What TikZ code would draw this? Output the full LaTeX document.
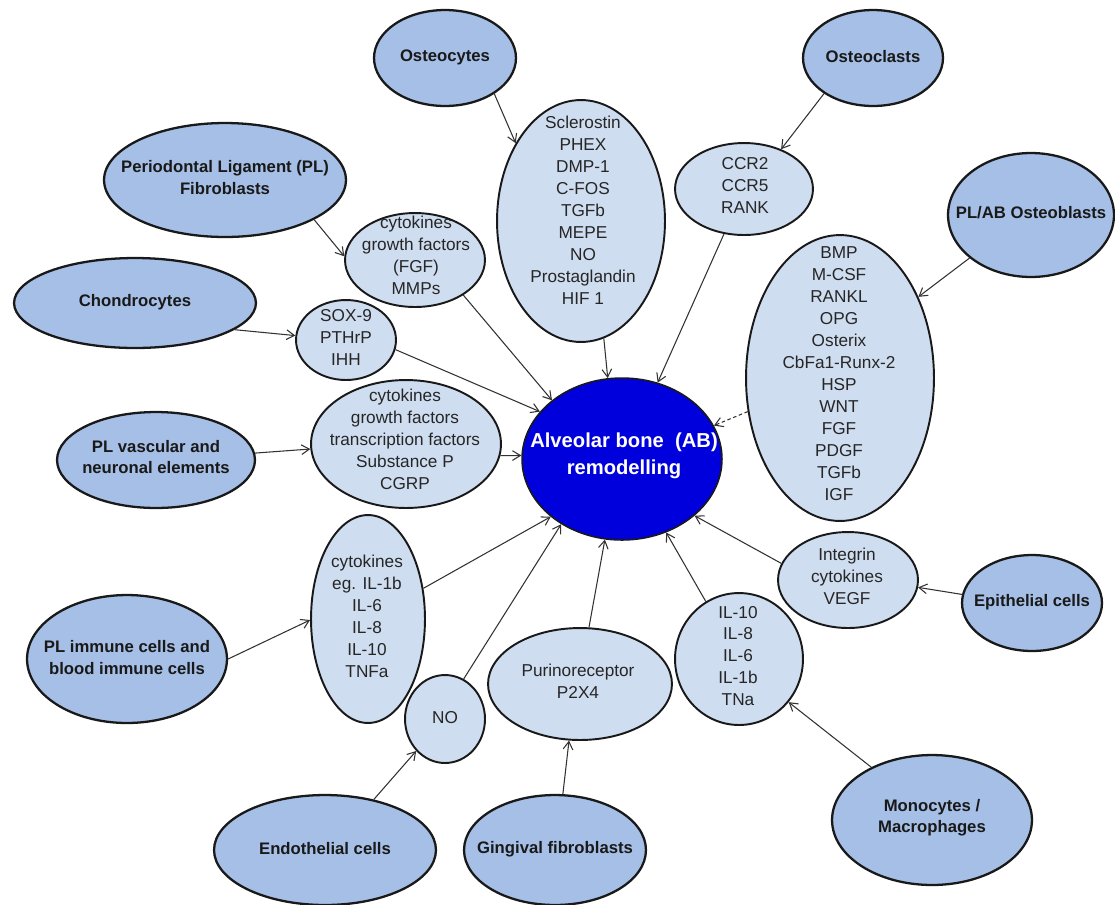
\documentclass[tikz,border=0pt]{standalone}
\usepackage{fontspec}
\setmainfont{Liberation Sans}
\usetikzlibrary{arrows.meta,shapes.geometric}
\definecolor{outerfill}{RGB}{166,191,230}
\definecolor{innerfill}{RGB}{207,221,240}
\definecolor{corefill}{RGB}{0,0,221}
\definecolor{edgecol}{RGB}{25,25,25}
\definecolor{arrcol}{RGB}{50,50,50}
\begin{document}
\begin{tikzpicture}[x=0.02cm,y=-0.02cm,
  esize/.style 2 args={minimum width=#1*0.04cm, minimum height=#2*0.04cm},
  outerell/.style={ellipse, draw=edgecol, line width=1.3pt, fill=outerfill, inner sep=0pt},
  innerell/.style={ellipse, draw=edgecol, line width=1.1pt, fill=innerfill, inner sep=0pt},
  coreell/.style={ellipse, draw=edgecol, line width=0.9pt, fill=corefill, inner sep=0pt},
  otxt/.style={align=center, font=\fontsize{9.5}{12}\selectfont\bfseries, text=black!90, inner sep=0pt},
  itxt/.style={align=center, font=\fontsize{9.8}{12.5}\selectfont, text=black!85, inner sep=0pt},
  ctxt/.style={align=center, font=\fontsize{11.5}{15.3}\selectfont\bfseries, text=white, inner sep=0pt},
  arr/.style={draw=arrcol, line width=0.6pt, -{Straight Barb[length=4.5pt,width=5.5pt]}},
  dasharr/.style={arr, dash pattern=on 2pt off 1.5pt}
]
\useasboundingbox (0,0) rectangle (1115,904);
\fill[white] (0,0) rectangle (1115,904);

% outer cell nodes
\node[outerell, esize={71}{48}] (osteocytes) at (445,58) {};
\node[otxt] (osteocytesT) at (445,57) {Osteocytes};
\node[outerell, esize={70}{48}] (osteoclasts) at (873,58) {};
\node[otxt] (osteoclastsT) at (873,57) {Osteoclasts};
\node[outerell, esize={121}{57}] (plfib) at (225,180) {};
\node[otxt] (plfibT) at (225,177.5) {Periodontal Ligament (PL)\\Fibroblasts};
\node[outerell, esize={121}{45}] (chondro) at (135,303) {};
\node[otxt] (chondroT) at (135,302) {Chondrocytes};
\node[outerell, esize={99}{48}] (plvasc) at (156,460) {};
\node[otxt] (plvascT) at (156,457) {PL vascular and\\neuronal elements};
\node[outerell, esize={100}{64}] (plimm) at (127,659) {};
\node[otxt] (plimmT) at (127,657.5) {PL immune cells and\\blood immune cells};
\node[outerell, esize={111}{55}] (endo) at (325,850) {};
\node[otxt] (endoT) at (325,849) {Endothelial cells};
\node[outerell, esize={91}{55}] (ging) at (555,850) {};
\node[otxt] (gingT) at (555,849) {Gingival fibroblasts};
\node[outerell, esize={100}{65}] (mono) at (932,820) {};
\node[otxt] (monoT) at (932,817.5) {Monocytes /\\Macrophages};
\node[outerell, esize={70}{48}] (epith) at (1032,603) {};
\node[otxt] (epithT) at (1032,602) {Epithelial cells};
\node[outerell, esize={83}{62}] (osteob) at (1031,215) {};
\node[otxt] (osteobT) at (1031,213) {PL/AB Osteoblasts};

% inner factor nodes
\node[innerell, esize={84}{121}] (scl) at (581,221) {};
\node[itxt] (sclT) at (583,210) {Sclerostin\\PHEX\\DMP-1\\C-FOS\\TGFb\\MEPE\\NO\\Prostaglandin\\HIF 1};
\node[innerell, esize={69}{46}] (ccr) at (744,189) {};
\node[itxt] (ccrT) at (745,185.5) {CCR2\\CCR5\\RANK};
\node[innerell, esize={70}{47}] (fgf) at (415,260) {};
\node[itxt] (fgfT) at (416,255) {cytokines\\growth factors\\(FGF)\\MMPs};
\node[innerell, esize={50}{40}] (sox) at (346,340) {};
\node[itxt] (soxT) at (346,337.5) {SOX-9\\PTHrP\\IHH};
\node[innerell, esize={95}{64}] (cgrp) at (406,444) {};
\node[itxt] (cgrpT) at (405,439) {cytokines\\growth factors\\transcription factors\\Substance P\\CGRP};
\node[innerell, esize={94}{143}] (bmp) at (840,378) {};
\node[itxt] (bmpT) at (839,373.5) {BMP\\M-CSF\\RANKL\\OPG\\Osterix\\CbFa1-Runx-2\\HSP\\WNT\\FGF\\PDGF\\TGFb\\IGF};
\node[innerell, esize={70}{48}] (integ) at (848,580) {};
\node[itxt] (integT) at (847,576.5) {Integrin\\cytokines\\VEGF};
\node[innerell, esize={64}{66}] (il10) at (739,659) {};
\node[itxt] (il10T) at (738,656) {IL-10\\IL-8\\IL-6\\IL-1b\\TNa};
\node[innerell, esize={92}{56}] (puri) at (580,684) {};
\node[itxt] (puriT) at (578,681) {Purinoreceptor\\P2X4};
\node[innerell, esize={40}{44}] (no) at (445,719) {};
\node[itxt] (noT) at (445,718) {NO};
\node[innerell, esize={57}{104}] (cyteg) at (368,619) {};
\node[itxt] (cytegT) at (367,616) {cytokines\\eg. IL-1b\\IL-6\\IL-8\\IL-10\\TNFa};

% central node
\node[coreell, esize={100}{81}] (core) at (622,459) {};
\node[ctxt] (coreT) at (624,455.5) {Alveolar bone \ (AB)\\remodelling};

% cells -> factors
\draw[arr] (osteocytes.-36.5) -- (scl.130.8);
\draw[arr] (osteoclasts.216.9) -- (ccr.47);
\draw[arr] (plfib.-24.7) -- (fgf.177.5);
\draw[arr] (chondro.-15.5) -- (sox.175.4);
\draw[arr] (plvasc.4) -- (cgrp.183);
\draw[arr] (plimm.0.6) -- (cyteg.181);
\draw[arr] (endo.46.6) -- (no.228.7);
\draw[arr] (ging.82.3) -- (puri.259.3);
\draw[arr] (mono.139.5) -- (il10.319.8);
\draw[arr] (epith.173.7) -- (integ.354.4);
\draw[arr] (osteob.215.1) -- (bmp.46.4);

% factors -> remodelling
\draw[arr] (scl.281.2) -- (core.100.2);
\draw[arr] (ccr.246.4) -- (core.65.1);
\draw[arr] (fgf.-36) -- (core.140.2);
\draw[arr] (sox.-11.3) -- (core.150.5);
\draw[arr] (cgrp.-7.7) -- (core.178.9);
\draw[dasharr] (bmp.200) -- (core.20.6);
\draw[arr] (integ.166.3) -- (core.-38.4);
\draw[arr] (il10.120) -- (core.-59.6);
\draw[arr] (puri.81) -- (core.-102.9);
\draw[arr] (no.65.8) -- (core.-133.6);
\draw[arr] (cyteg.29.3) -- (core.-141.6);
\end{tikzpicture}
\end{document}
